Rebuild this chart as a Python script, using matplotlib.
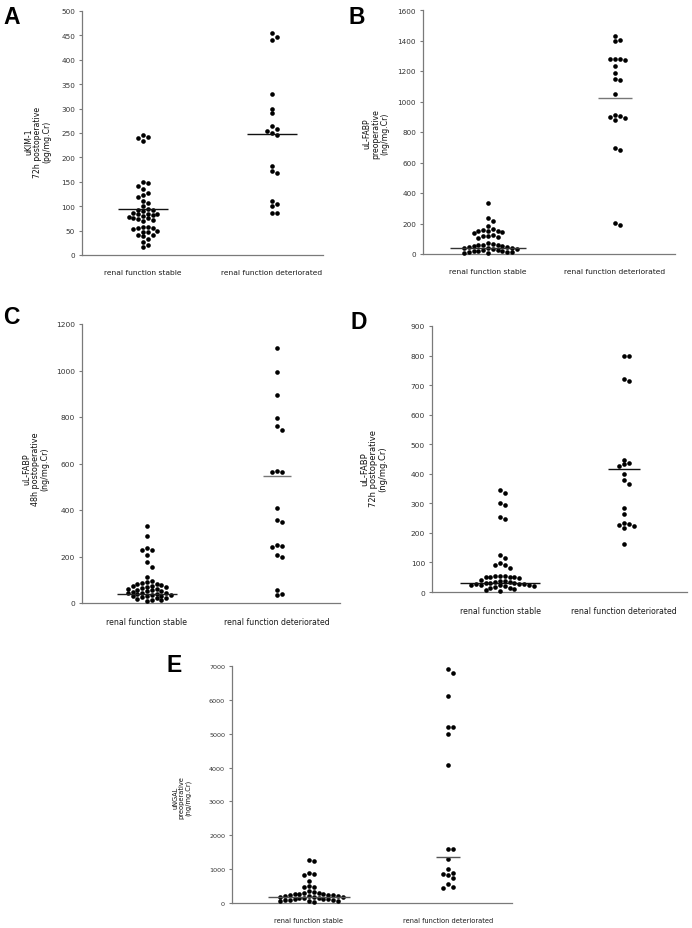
import numpy as np
import matplotlib
matplotlib.use("Agg")
import matplotlib.pyplot as plt

W, H = 692, 929
categories = ["renal function stable", "renal function deteriorated"]

# ---------------- data ----------------
a_stable = [246, 234, 241, 239, 150, 147, 141, 135, 127, 122, 118, 111, 107, 100,
            93, 92, 95, 90, 85, 83, 86, 82, 84, 78, 76, 79, 75, 71, 69, 73,
            57, 55, 58, 54, 56, 50, 48, 47, 41, 38, 40, 33, 27, 20, 16]
a_det = [455, 447, 440, 330, 300, 290, 264, 258, 255, 250, 246, 182, 172, 168,
         110, 105, 100, 87, 86]
a_median = [95, 247]
a_ticks = [0, 50, 100, 150, 200, 250, 300, 350, 400, 450, 500]

b_stable = [334, 238, 218, 182, 165, 160, 152, 150, 148, 145, 140, 125, 120, 115,
            110, 105, 70, 65, 62, 60, 58, 55, 50, 48, 45, 42, 40, 38, 35, 30, 28,
            25, 22, 20, 18, 15, 12, 10, 8, 5]
b_det = [1432, 1405, 1398, 1280, 1278, 1276, 1274, 1235, 1190, 1145, 1143, 1050,
         912, 908, 900, 890, 880, 697, 684, 201, 192]
b_median = [40, 1020]
b_ticks = [0, 200, 400, 600, 800, 1000, 1200, 1400, 1600]

c_stable = [330, 287, 235, 230, 226, 205, 175, 156, 110, 95, 90, 85, 80, 80, 78,
            75, 72, 70, 68, 65, 62, 60, 58, 55, 52, 50, 48, 45, 45, 42, 40, 38,
            35, 35, 32, 30, 28, 25, 22, 20, 18, 15, 12, 10]
c_det = [1097, 995, 893, 797, 762, 745, 566, 565, 562, 408, 358, 350, 250, 246,
         240, 205, 198, 55, 38, 34]
c_median = [40, 545]
c_ticks = [0, 200, 400, 600, 800, 1000, 1200]

d_stable = [345, 335, 302, 296, 255, 246, 125, 115, 97, 92, 90, 82, 55, 55, 54,
            52, 52, 50, 50, 48, 40, 38, 36, 35, 33, 32, 30, 30, 28, 27, 26, 25,
            24, 22, 22, 20, 20, 18, 15, 12, 10, 8, 5]
d_det = [800, 798, 720, 715, 448, 435, 432, 428, 398, 380, 366, 285, 263, 235,
         230, 228, 222, 218, 162]
d_median = [30, 415]
d_ticks = [0, 100, 200, 300, 400, 500, 600, 700, 800, 900]

e_stable = [1270, 1240, 900, 870, 820, 640, 500, 480, 470, 350, 320, 300, 290,
            280, 270, 260, 250, 240, 230, 220, 210, 200, 190, 180, 170, 160, 150,
            140, 130, 120, 110, 100, 90, 80, 70, 60, 50, 40]
e_det = [6900, 6780, 6100, 5200, 5190, 4990, 4080, 1600, 1590, 1300, 990, 880,
         860, 840, 740, 550, 460, 450]
e_median = [170, 1350]
e_ticks = [0, 1000, 2000, 3000, 4000, 5000, 6000, 7000]

ylabels = {
    "A": "uKIM-1\n72h postoperative\n(pg/mg.Cr)",
    "B": "uL-FABP\npreoperative\n(ng/mg.Cr)",
    "C": "uL-FABP\n48h postoperative\n(ng/mg.Cr)",
    "D": "uL-FABP\n72h postoperative\n(ng/mg.Cr)",
    "E": "uNGAL\npreoperative\n(ng/mg.Cr)",
}

# ---------------- layout (pixels) ----------------
panels = {
    "A": dict(box=(82, 323, 12, 256), cats=(143, 272), data=(a_stable, a_det), med=a_median,
              ticks=a_ticks, letter=(3, 17), ylab=(38, 142), half=(25, 25),
              medcol=("#111111", "#111111"), fs=5.2, lfs=5.6),
    "B": dict(box=(423, 675, 11, 255), cats=(488, 615), data=(b_stable, b_det), med=b_median,
              ticks=b_ticks, letter=(349, 17), ylab=(376, 134), half=(38, 17),
              medcol=("#333333", "#777777"), fs=5.2, lfs=5.6),
    "C": dict(box=(82, 340, 325, 604), cats=(147, 277), data=(c_stable, c_det), med=c_median,
              ticks=c_ticks, letter=(3, 317), ylab=(36, 469), half=(30, 14),
              medcol=("#222222", "#777777"), fs=5.4, lfs=5.8),
    "D": dict(box=(432, 687, 327, 593), cats=(500, 624), data=(d_stable, d_det), med=d_median,
              ticks=d_ticks, letter=(351, 323), ylab=(374, 469), half=(40, 16),
              medcol=("#111111", "#111111"), fs=5.4, lfs=6.0),
    "E": dict(box=(232, 512, 667, 904), cats=(309, 448), data=(e_stable, e_det), med=e_median,
              ticks=e_ticks, letter=(166, 666), ylab=(182, 798), half=(41, 12),
              medcol=("#555555", "#555555"), fs=4.6, lfs=4.8),
}

DOT_D = 4.6  # dot diameter in px


def swarm(values, ppu, d):
    """Simple beeswarm: returns x offsets in px for values (px per unit ppu)."""
    order = np.argsort(values)[::-1]
    placed = []
    offs = np.zeros(len(values))
    for i in order:
        y = values[i] * ppu
        k = 0
        while True:
            cands = [0.0] if k == 0 else [k * d * 1.05, -k * d * 1.05]
            ok = None
            for c in cands:
                if all((c - px) ** 2 + (y - py) ** 2 >= (d * 1.0) ** 2 for px, py in placed):
                    ok = c
                    break
            if ok is not None:
                offs[i] = ok
                placed.append((ok, y))
                break
            k += 1
    return offs


fig = plt.figure(figsize=(W / 100, H / 100), dpi=100)
fig.patch.set_facecolor("white")

for name, p in panels.items():
    l, r, t, b = p["box"]
    ax = fig.add_axes([l / W, 1 - b / H, (r - l) / W, (b - t) / H])
    c1, c2 = p["cats"]
    scale = c2 - c1
    ax.set_xlim(1 - (c1 - l) / scale, 2 + (r - c2) / scale)
    ymax = p["ticks"][-1]
    ax.set_ylim(0, ymax)
    ppu = (b - t) / ymax
    for gi, vals in enumerate(p["data"]):
        vals = np.asarray(vals, dtype=float)
        offs = swarm(vals, ppu, DOT_D)
        xs = (gi + 1) + offs / scale
        ax.scatter(xs, vals, s=11, color="black", linewidths=0, zorder=3, clip_on=False)
        hw = p["half"][gi] / scale
        ax.plot([gi + 1 - hw, gi + 1 + hw], [p["med"][gi]] * 2, color=p["medcol"][gi],
                lw=1.0, zorder=4, solid_capstyle="butt")
    for s in ["top", "right"]:
        ax.spines[s].set_visible(False)
    for s in ["left", "bottom"]:
        ax.spines[s].set_color("#7a7a7a")
        ax.spines[s].set_linewidth(0.9)
    ax.set_yticks(p["ticks"])
    ax.set_yticklabels([str(v) for v in p["ticks"]])
    ax.tick_params(axis="y", length=2.5, width=0.8, color="#7a7a7a", labelsize=p["fs"],
                   labelcolor="#333333", pad=2.5)
    ax.set_xticks([1, 2])
    ax.set_xticklabels(categories)
    ax.tick_params(axis="x", length=0, labelsize=p["fs"] + 0.2, labelcolor="#1a1a1a", pad=10)
    ax.set_facecolor("white")

    lx, ly = p["letter"]
    fig.text(lx / W, 1 - ly / H, name, fontsize=16.5, fontweight="bold",
             family="Liberation Sans", ha="left", va="center")
    yx, yy = p["ylab"]
    fig.text(yx / W, 1 - yy / H, ylabels[name], rotation=90, fontsize=p["lfs"],
             ha="center", va="center", multialignment="center", linespacing=1.0,
             color="#111111")

fig.savefig("out.png", dpi=100, facecolor="white")
